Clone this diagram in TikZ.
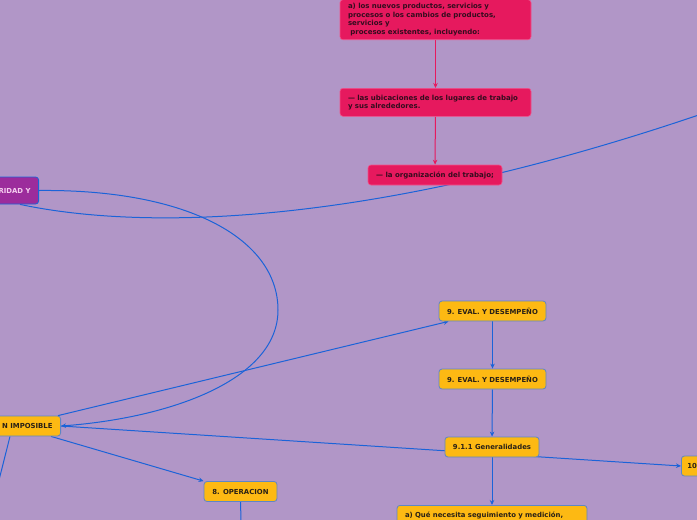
\documentclass[tikz,border=0pt]{standalone}
\usepackage{fontspec}
\setmainfont{DejaVu Sans}
\usetikzlibrary{arrows.meta}
\definecolor{lavender}{HTML}{B196C7}
\definecolor{mapyellow}{HTML}{FDB913}
\definecolor{mapyellowedge}{HTML}{5E86C6}
\definecolor{mappink}{HTML}{E6195E}
\definecolor{mappinkedge}{HTML}{F2508A}
\definecolor{mappurple}{HTML}{9C2C9C}
\definecolor{mapblue}{HTML}{1B63D8}
\definecolor{maptext}{HTML}{2A2116}
\definecolor{pinktext}{HTML}{340C1E}
\definecolor{purpletext}{HTML}{F6CFF0}
\pgfdeclarelayer{edges}
\pgfsetlayers{edges,main}

\begin{document}
\begin{tikzpicture}[x=1pt, y=-1pt,
  yellownode/.style={draw=mapyellowedge, fill=mapyellow, line width=0.8pt, rounded corners=3pt,
    font=\fontsize{6.9}{8}\selectfont\bfseries, text=maptext, inner xsep=8pt, inner ysep=3pt, minimum height=20pt},
  pinknode/.style={draw=mappinkedge, fill=mappink, line width=0.6pt, rounded corners=3pt,
    font=\fontsize{7}{8.4}\selectfont\bfseries, text=pinktext, inner xsep=8pt, inner ysep=4pt, align=left},
  purplenode/.style={draw=mapblue, fill=mappurple, line width=0.8pt, rounded corners=3pt,
    font=\fontsize{6.9}{8}\selectfont\bfseries, text=purpletext, inner xsep=8pt, inner ysep=3pt, minimum height=27pt},
  blueedge/.style={draw=mapblue, line width=1pt},
  bluearrow/.style={blueedge, -{Stealth[length=5pt, width=4.5pt]}},
  pinkarrow/.style={draw=mappink, line width=1pt, -{Stealth[length=5pt, width=4.5pt]}},
]
  \useasboundingbox (0,0) rectangle (697,520);

  % pink branch at the top
  \node[pinknode, text width=175pt, anchor=south] (nuevos) at (435.5,40) {a) los nuevos productos, servicios y\\procesos o los cambios de productos,\\servicios y\\\ procesos existentes, incluyendo:};
  \node[pinknode, text width=175pt, anchor=north, minimum height=28pt] (ubicaciones) at (435.5,88) {--- las ubicaciones de los lugares de trabajo\\y sus alrededores.};
  \node[pinknode, minimum height=20pt, minimum width=134pt, inner ysep=3pt] (organizacion) at (435,175) {--- la organización del trabajo;};

  % left nodes, cut by the page edge
  \node[purplenode, anchor=east] (seguridad) at (39,190.5) {RIDAD Y};
  \node[yellownode, anchor=east] (imposible) at (61,426) {N IMPOSIBLE};

  % yellow branch
  \node[yellownode, minimum width=107pt] (evaluno) at (492.5,311) {9. EVAL. Y DESEMPEÑO};
  \node[yellownode, minimum width=107pt] (evaldos) at (492.5,379) {9. EVAL. Y DESEMPEÑO};
  \node[yellownode, minimum width=94pt] (generalidades) at (492,447) {9.1.1 Generalidades};
  \node[yellownode, anchor=north, text width=174pt, minimum height=30pt, align=left, text depth=12pt] (seguimiento) at (492,505) {a) Qué necesita seguimiento y medición,};
  \node[yellownode, anchor=west, inner xsep=6pt] (mejora) at (681,466) {10};
  \node[yellownode, minimum width=73pt] (operacion) at (240.5,491.5) {8. OPERACION};

  \coordinate (salidaabajo) at (241,530);
  \coordinate (salidaizq) at (-6,500);
  \coordinate (salidader) at (780,86);

  \begin{pgfonlayer}{edges}
    \fill[lavender] (0,0) rectangle (697,520);
    \draw[pinkarrow] (nuevos) -- (ubicaciones);
    \draw[pinkarrow] (ubicaciones) -- (organizacion);
    \draw[bluearrow] (seguridad.east) .. controls (190,189) and (278,240) .. (278,310)
      .. controls (278,380) and (170,418) .. (imposible.east);
    \draw[blueedge] ([xshift=-19pt]seguridad.south east) .. controls (150,232) and (400,228) .. (salidader);
    \draw[bluearrow] ([xshift=-3pt]imposible.north east) -- ([xshift=10pt]evaluno.south west);
    \draw[bluearrow] (evaluno) -- (evaldos);
    \draw[bluearrow] (evaldos) -- (generalidades);
    \draw[bluearrow] (generalidades) -- (seguimiento);
    \draw[bluearrow] (imposible.east) -- (mejora.west);
    \draw[bluearrow] ([xshift=-10pt]imposible.south east) -- (operacion.north west);
    \draw[blueedge] ([xshift=-51pt]imposible.south east) -- (salidaizq);
    \draw[blueedge] (operacion) -- (salidaabajo);
  \end{pgfonlayer}
\end{tikzpicture}
\end{document}
